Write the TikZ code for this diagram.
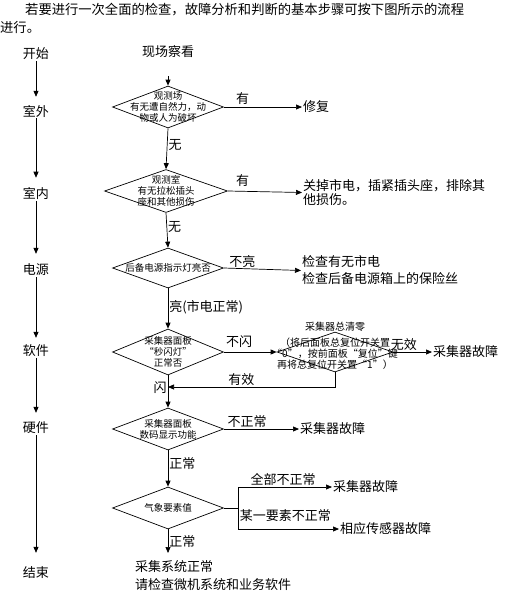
\documentclass[tikz,border=0pt]{standalone}
\usepackage{fontspec}
\setmainfont{Noto Sans CJK SC}
\usetikzlibrary{arrows.meta,shapes.geometric}
\begin{document}
\begin{tikzpicture}[x=1pt,y=-1pt,
  txt/.style={font=\fontsize{13}{18}\selectfont, inner sep=1pt},
  dtxt/.style={font=\fontsize{9.5}{11}\selectfont, align=center, inner sep=0pt},
  dia/.style={draw, diamond, inner sep=0pt, line width=0.7pt},
  arr/.style={-{Triangle[length=6pt,width=5pt]}, line width=0.7pt},
  ln/.style={line width=0.7pt}]
\useasboundingbox (0,0) rectangle (519,616);
% header
\node[txt, anchor=west, font=\fontsize{13.3}{18}\selectfont] (h1) at (24,10) {若要进行一次全面的检查，故障分析和判断的基本步骤可按下图所示的流程};
\node[txt, anchor=west, font=\fontsize{13.3}{18}\selectfont] (h2) at (-1,27) {进行。};
% left column
\node[txt] (L0) at (36,54) {开始};
\node[txt] (L1) at (36,111) {室外};
\node[txt] (L2) at (36,194) {室内};
\node[txt] (L3) at (36,270) {电源};
\node[txt] (L4) at (36,351) {软件};
\node[txt] (L5) at (36,428) {硬件};
\node[txt] (L6) at (36,573) {结束};
\draw[arr, shorten >=7pt] (L0) -- (L1);
\draw[arr, shorten >=9pt] (L1) -- (L2);
\draw[arr, shorten >=9pt] (L2) -- (L3);
\draw[arr, shorten >=6pt] (L3) -- (L4);
\draw[arr, shorten >=8pt] (L4) -- (L5);
\draw[arr, shorten >=13pt] (L5) -- (L6);
% main column
\node[txt] (s0) at (168,52) {现场察看};
\node[dia, minimum width=111pt, minimum height=42pt,
  label={[dtxt]center:{观测场\\有无遭自然力，动\\物或人为破坏}}] (d1) at (168,107) {};
\node[dia, minimum width=123pt, minimum height=43pt,
  label={[dtxt]center:{观测室\\有无拉松插头\\座和其他损伤}}] (d2) at (166,191) {};
\node[dia, minimum width=111pt, minimum height=40pt,
  label={[dtxt]center:{后备电源指示灯亮否}}] (d3) at (168,268) {};
\node[dia, minimum width=111pt, minimum height=46pt,
  label={[dtxt]center:{采集器面板\\“秒闪灯”\\正常否}}] (d4) at (168,352) {};
\node[dia, minimum width=116pt, minimum height=40pt,
  label={[dtxt, font=\fontsize{10}{11}\selectfont, yshift=6pt]center:{采集器总清零\\[5pt]（将后面板总复位开关置\\“0”，按前面板“复位”键\\再将总复位开关置“1”）}}] (d5) at (335,352) {};
\node[dia, minimum width=111pt, minimum height=42pt,
  label={[dtxt]center:{采集器面板\\数码显示功能}}] (d6) at (168,429) {};
\node[dia, minimum width=111pt, minimum height=42pt,
  label={[dtxt]center:{气象要素值}}] (d7) at (168,508) {};
% right texts
\node[txt, anchor=west] (r1) at (302,107) {修复};
\node[txt, anchor=west, align=left, font=\fontsize{13}{14}\selectfont] (r2) at (302,192.5) {关掉市电，插紧插头座，排除其\\他损伤。};
\node[txt, anchor=west, align=left, font=\fontsize{13}{17}\selectfont] (r3) at (301,270.5) {检查有无市电\\检查后备电源箱上的保险丝};
\node[txt, anchor=west] (r5) at (432,352) {采集器故障};
\node[txt, anchor=west] (r6) at (299,429) {采集器故障};
\node[txt, anchor=west] (r7a) at (332,487) {采集器故障};
\node[txt, anchor=west] (r7b) at (339,529) {相应传感器故障};
\node[txt, anchor=north west, align=left] (fin) at (134,559) {采集系统正常\\请检查微机系统和业务软件};
\coordinate (fb) at (168,387);
\coordinate (j) at (238,508);
% connectors
\draw[arr, shorten <=17pt] (s0) -- (d1.north);
\draw[arr] (d1.east) -- (r1.west) node[txt, pos=0.24, above=1pt] {有};
\draw[arr] (d1.south) -- (d2.north) node[txt, pos=0.41, right] {无};
\draw[arr] (d2.east) -- (r2.west) node[txt, pos=0.2, above=3pt] {有};
\draw[arr] (d2.south) -- (d3.north) node[txt, pos=0.4, right] {无};
\draw[arr] (d3.east) -- (r3.west) node[txt, pos=0.24, above] {不亮};
\draw[arr] (d3.south) -- (d4.north) node[txt, pos=0.46, right] {亮(市电正常)};
\draw[arr] (d4.east) -- (d5.west) node[txt, pos=0.29, above=3pt] {不闪};
\draw[arr] (d5.east) -- (r5.west) node[txt, pos=0.27, above=0pt] {无效};
\draw[arr] (d5.south) |- (fb) node[txt, pos=0.78, above] {有效};
\draw[arr] (d4.south) -- (d6.north) node[txt, pos=0.39, left] {闪};
\draw[arr] (d6.east) -- (r6.west) node[txt, pos=0.31, above] {不正常};
\draw[arr] (d6.south) -- (d7.north) node[txt, pos=0.35, right] {正常};
\draw[ln] (d7.east) -- (j);
\draw[arr] (j) |- (r7a.west) node[txt, pos=0.74, above] {全部不正常};
\draw[arr] (j) |- (r7b.west) node[txt, pos=0.735, above=6pt] {某一要素不正常};
\draw[arr, shorten >=6pt] (d7.south) -- (d7.south |- fin.north) node[txt, pos=0.4, right] {正常};
\end{tikzpicture}
\end{document}
